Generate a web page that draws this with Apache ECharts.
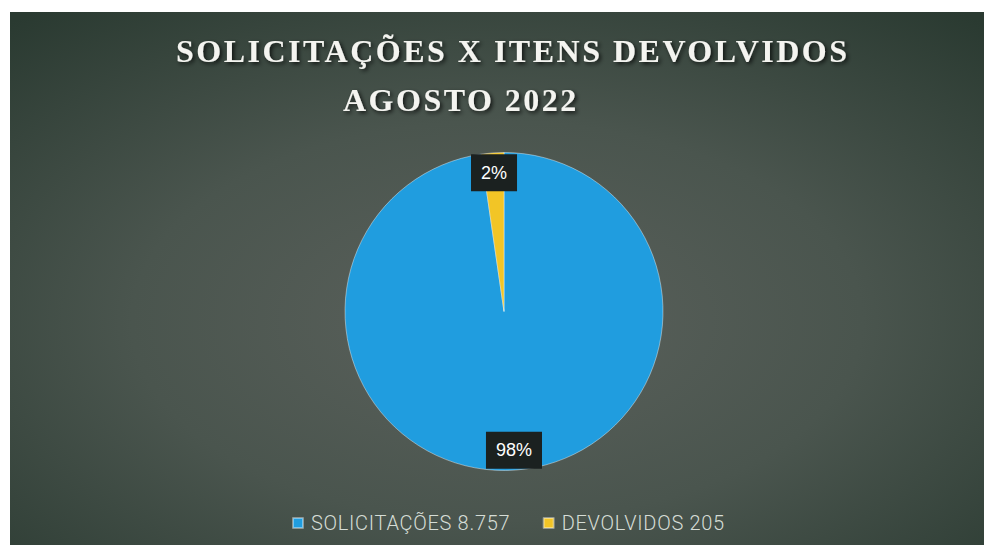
<!DOCTYPE html>
<html>
<head>
<meta charset="utf-8">
<script src="https://cdn.jsdelivr.net/npm/echarts@6/dist/echarts.min.js"></script>
<style>
html,body{margin:0;padding:0;background:#fff;}
#chart{width:984px;height:545px;}
</style>
</head>
<body>
<div id="chart"></div>
<script>
var titleLines = ['SOLICITAÇÕES X ITENS DEVOLVIDOS', 'AGOSTO 2022'];
var categories = ['SOLICITAÇÕES', 'DEVOLVIDOS'];
var values = [8757, 205];
var valueLabels = ['8.757', '205'];
var colors = ['#209ddf', '#f2c526'];

var chart = echarts.init(document.getElementById('chart'), null, {renderer: 'svg'});

var legendNames = categories.map(function (c, i) { return c + ' ' + valueLabels[i]; });
var pieData = values.map(function (v, i) {
  return {name: legendNames[i], value: v, itemStyle: {color: colors[i]}};
});
var labelData = values.map(function (v, i) {
  return {name: legendNames[i], value: v};
});

var titleStyle = {
  color: '#f4f4f0',
  fontFamily: 'Liberation Serif',
  fontWeight: 'bold',
  fontSize: 32,
  textShadowColor: 'rgba(0,0,0,0.75)',
  textShadowBlur: 4,
  textShadowOffsetX: 2,
  textShadowOffsetY: 2
};

chart.setOption({
  animation: false,
  backgroundColor: '#ffffff',
  graphic: [{
    type: 'rect',
    z: -10,
    silent: true,
    shape: {x: 10, y: 12, width: 974, height: 533},
    style: {
      fill: new echarts.graphic.RadialGradient(0.5, 0.58, 0.75, [
        {offset: 0, color: '#5b615c'},
        {offset: 0.5, color: '#4a554e'},
        {offset: 1, color: '#2a3a31'}
      ])
    }
  }],
  title: [
    {text: titleLines[0], left: 176, top: 35, padding: 0, textStyle: titleStyle},
    {text: titleLines[1], left: 343, top: 84, padding: 0, textStyle: titleStyle}
  ],
  legend: {
    left: 287,
    top: 508,
    itemWidth: 10,
    itemHeight: 10,
    itemGap: 45,
    icon: 'rect',
    data: legendNames.map(function (n, i) { return {name: n, itemStyle: {color: colors[i]}}; }),
    textStyle: {
      color: '#d6ddd6',
      fontFamily: 'Roboto',
      fontWeight: 300,
      fontSize: 20,
      padding: [0, 0, 0, 3]
    }
  },
  series: [
    {
      type: 'pie',
      center: [504, 311.5],
      radius: [0, 159],
      startAngle: 90,
      clockwise: true,
      silent: true,
      label: {show: false},
      labelLine: {show: false},
      itemStyle: {borderColor: 'rgba(255,255,255,0.4)', borderWidth: 1},
      data: pieData
    },
    {
      type: 'pie',
      center: [504, 311.5],
      radius: [113, 159],
      startAngle: 90,
      clockwise: true,
      silent: true,
      itemStyle: {color: 'rgba(0,0,0,0)'},
      labelLine: {show: false},
      label: {
        show: true,
        position: 'inside',
        formatter: function (p) { return Math.round(p.percent) + '%'; },
        color: '#ffffff',
        fontFamily: 'Liberation Sans',
        fontSize: 18,
        lineHeight: 19,
        backgroundColor: '#1b2120',
        padding: [9, 10]
      },
      data: labelData
    }
  ]
});

// apply letter spacing to title and legend texts (SVG renderer)
var texts = document.querySelectorAll('#chart svg text');
for (var i = 0; i < texts.length; i++) {
  var t = texts[i].textContent;
  if (titleLines.indexOf(t) >= 0) {
    texts[i].setAttribute('letter-spacing', '2.5');
  } else if (legendNames.indexOf(t) >= 0) {
    texts[i].setAttribute('letter-spacing', '0.7');
  }
}
</script>
</body>
</html>
